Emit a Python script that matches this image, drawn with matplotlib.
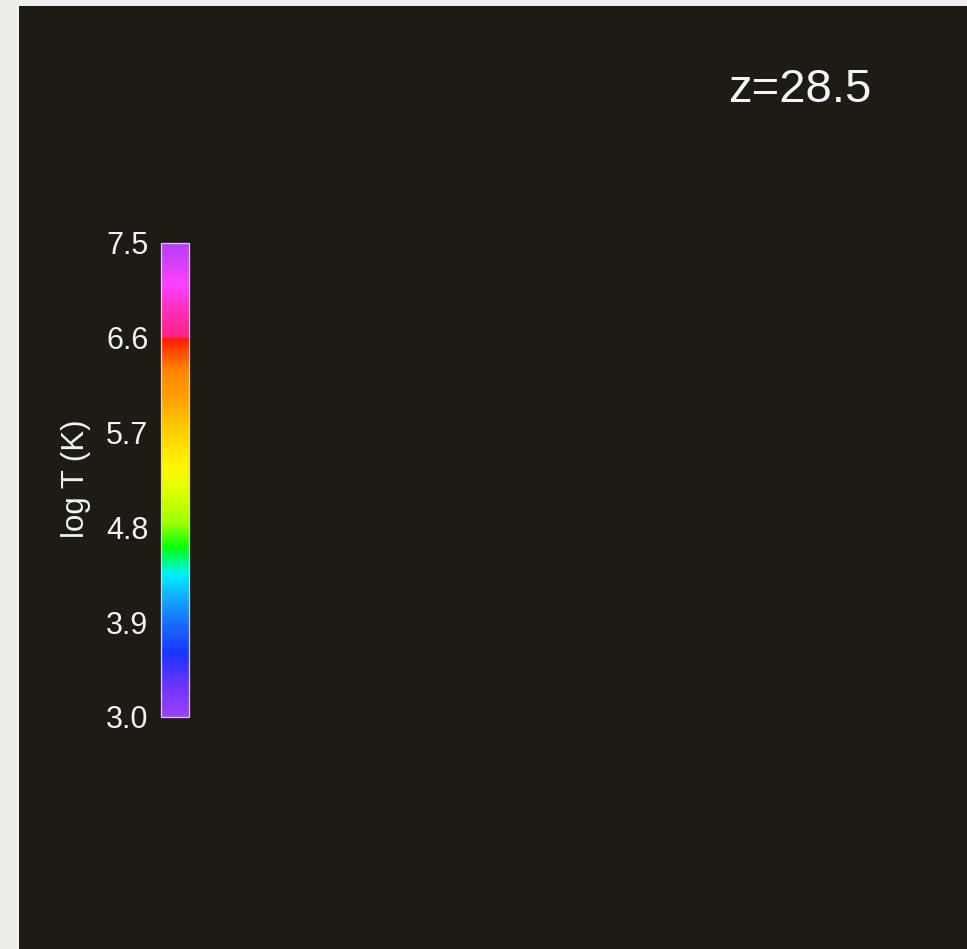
import matplotlib
matplotlib.use('Agg')
import matplotlib.pyplot as plt
from matplotlib.colors import LinearSegmentedColormap, Normalize
from matplotlib.cm import ScalarMappable

plt.rcParams['font.family'] = ['Liberation Sans', 'DejaVu Sans']

# temperature scale of the slice
tmin, tmax = 3.0, 7.5
tick_vals = [3.0, 3.9, 4.8, 5.7, 6.6, 7.5]
redshift = 28.5

# colour stops in log T; 6.6 appears twice to give the jump from red to pink
stop_vals = [3.0, 3.3, 3.6, 3.9, 4.15, 4.35, 4.6, 4.85, 5.2, 5.4,
             5.7, 6.0, 6.3, 6.5, 6.6, 6.6, 6.9, 7.1, 7.5]
stop_cols = ['#9a40ff', '#6a34ff', '#1a34ff', '#1a70ff', '#10b0ff', '#00f0ff',
             '#00ff10', '#a0ff00', '#e8ff00', '#fff400',
             '#ffd000', '#ffa400', '#ff8400', '#ff4000', '#ff1800', '#ff2080',
             '#ff30c0', '#ff40ff', '#b040ff']

positions = [(v - tmin) / (tmax - tmin) for v in stop_vals]
cmap = LinearSegmentedColormap.from_list('logT', list(zip(positions, stop_cols)), N=512)

W, H = 967, 949
fig = plt.figure(figsize=(W / 100, H / 100), dpi=100, facecolor='#efede9')

# dark slice panel
ax = fig.add_axes([19 / W, 0, (W - 19) / W, (H - 6) / H])
ax.set_facecolor('#1e1b15')
ax.set_xticks([])
ax.set_yticks([])
for s in ax.spines.values():
    s.set_visible(False)

# colour bar
cax = fig.add_axes([161 / W, (H - 717) / H, 28 / W, 474 / H])
sm = ScalarMappable(norm=Normalize(tmin, tmax), cmap=cmap)
cb = fig.colorbar(sm, cax=cax, orientation='vertical')
cb.outline.set_edgecolor('#d8cfe4')
cb.outline.set_linewidth(0.9)
cax.yaxis.set_ticks_position('left')
cax.set_yticks(tick_vals)
cax.set_yticklabels(['%.1f' % v for v in tick_vals])
cax.tick_params(axis='y', length=0, pad=9, labelsize=22, labelcolor='#f2f2f2')

fig.text(76 / W, 1 - 479 / H, 'log T (K)', rotation=90, ha='center', va='center',
         fontsize=22.5, color='#f2f2f2')

fig.text(728 / W, 1 - 102 / H, 'z=%.1f' % redshift, ha='left', va='baseline',
         fontsize=34, color='#f4f4f4')

fig.savefig('out.png', dpi=100, facecolor=fig.get_facecolor())
